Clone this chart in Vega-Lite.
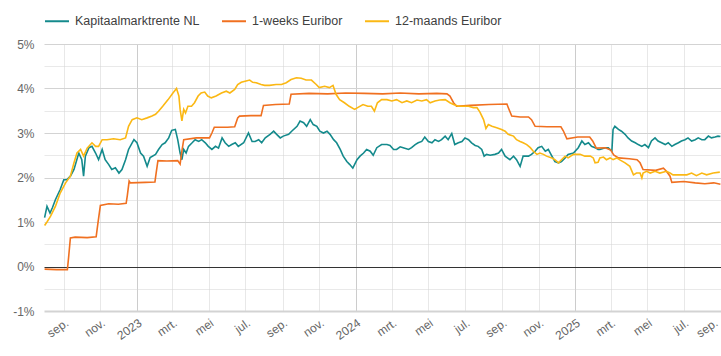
{
  "$schema": "https://vega.github.io/schema/vega-lite/v6.json",
  "width": 677,
  "height": 267,
  "autosize": {"type": "none"},
  "padding": {"left": 44, "top": 44, "right": 0, "bottom": 45},
  "config": {
    "font": "Liberation Sans",
    "view": {"stroke": null},
    "axis": {"labelFont": "Liberation Sans", "labelFontSize": 12, "labelColor": "#666666"},
    "legend": {"labelFont": "Liberation Sans"}
  },
  "datasets": {
    "kapitaal": [
      {"d":"2022-07-31","v":1.1},{"d":"2022-08-04","v":1.35},{"d":"2022-08-09","v":1.2},{"d":"2022-08-13","v":1.32},{"d":"2022-08-18","v":1.5},{"d":"2022-08-26","v":1.73},
      {"d":"2022-09-01","v":1.95},{"d":"2022-09-06","v":1.95},{"d":"2022-09-12","v":2.03},{"d":"2022-09-18","v":2.18},{"d":"2022-09-26","v":2.55},
      {"d":"2022-10-01","v":2.4},{"d":"2022-10-04","v":2.03},{"d":"2022-10-07","v":2.48},{"d":"2022-10-13","v":2.67},{"d":"2022-10-18","v":2.7},{"d":"2022-10-24","v":2.55},{"d":"2022-10-29","v":2.4},
      {"d":"2022-11-04","v":2.63},{"d":"2022-11-09","v":2.4},{"d":"2022-11-15","v":2.29},{"d":"2022-11-20","v":2.18},{"d":"2022-11-26","v":2.22},
      {"d":"2022-12-02","v":2.1},{"d":"2022-12-07","v":2.18},{"d":"2022-12-13","v":2.4},{"d":"2022-12-18","v":2.63},{"d":"2022-12-27","v":2.85},
      {"d":"2023-01-01","v":2.78},{"d":"2023-01-07","v":2.55},{"d":"2023-01-12","v":2.48},{"d":"2023-01-18","v":2.25},{"d":"2023-01-23","v":2.45},
      {"d":"2023-02-01","v":2.52},{"d":"2023-02-06","v":2.63},{"d":"2023-02-12","v":2.74},{"d":"2023-02-17","v":2.78},{"d":"2023-02-23","v":2.89},{"d":"2023-02-28","v":3.06},
      {"d":"2023-03-06","v":3.08},{"d":"2023-03-10","v":2.85},{"d":"2023-03-14","v":2.55},{"d":"2023-03-17","v":2.4},{"d":"2023-03-20","v":2.63},{"d":"2023-03-24","v":2.55},{"d":"2023-03-28","v":2.7},
      {"d":"2023-04-03","v":2.78},{"d":"2023-04-08","v":2.85},{"d":"2023-04-14","v":2.81},{"d":"2023-04-19","v":2.85},{"d":"2023-04-25","v":2.78},{"d":"2023-04-30","v":2.7},
      {"d":"2023-05-06","v":2.63},{"d":"2023-05-12","v":2.7},{"d":"2023-05-17","v":2.66},{"d":"2023-05-23","v":2.89},{"d":"2023-05-28","v":2.78},
      {"d":"2023-06-03","v":2.7},{"d":"2023-06-08","v":2.74},{"d":"2023-06-14","v":2.78},{"d":"2023-06-19","v":2.7},{"d":"2023-06-28","v":2.78},
      {"d":"2023-07-06","v":3.0},{"d":"2023-07-12","v":2.81},{"d":"2023-07-17","v":2.81},{"d":"2023-07-23","v":2.85},{"d":"2023-07-28","v":2.78},
      {"d":"2023-08-03","v":2.89},{"d":"2023-08-11","v":2.97},{"d":"2023-08-17","v":3.04},{"d":"2023-08-22","v":2.97},{"d":"2023-08-28","v":2.89},
      {"d":"2023-09-02","v":2.93},{"d":"2023-09-11","v":2.97},{"d":"2023-09-16","v":3.04},{"d":"2023-09-25","v":3.15},{"d":"2023-09-30","v":3.27},
      {"d":"2023-10-06","v":3.23},{"d":"2023-10-11","v":3.15},{"d":"2023-10-17","v":3.3},{"d":"2023-10-22","v":3.19},{"d":"2023-10-28","v":3.15},
      {"d":"2023-11-02","v":3.04},{"d":"2023-11-08","v":3.0},{"d":"2023-11-14","v":3.04},{"d":"2023-11-19","v":2.97},{"d":"2023-11-25","v":2.85},{"d":"2023-11-30","v":2.78},
      {"d":"2023-12-06","v":2.63},{"d":"2023-12-11","v":2.48},{"d":"2023-12-17","v":2.36},{"d":"2023-12-22","v":2.29},{"d":"2023-12-27","v":2.21},
      {"d":"2024-01-03","v":2.4},{"d":"2024-01-08","v":2.48},{"d":"2024-01-14","v":2.55},{"d":"2024-01-19","v":2.63},{"d":"2024-01-25","v":2.59},{"d":"2024-01-30","v":2.5},
      {"d":"2024-02-05","v":2.67},{"d":"2024-02-13","v":2.74},{"d":"2024-02-22","v":2.74},{"d":"2024-02-27","v":2.72},
      {"d":"2024-03-04","v":2.63},{"d":"2024-03-09","v":2.63},{"d":"2024-03-15","v":2.69},{"d":"2024-03-20","v":2.67},{"d":"2024-03-29","v":2.63},
      {"d":"2024-04-03","v":2.67},{"d":"2024-04-09","v":2.74},{"d":"2024-04-14","v":2.78},{"d":"2024-04-20","v":2.81},{"d":"2024-04-25","v":2.91},
      {"d":"2024-05-01","v":2.81},{"d":"2024-05-07","v":2.78},{"d":"2024-05-12","v":2.85},{"d":"2024-05-18","v":2.81},{"d":"2024-05-23","v":2.85},{"d":"2024-05-29","v":2.93},
      {"d":"2024-06-03","v":2.85},{"d":"2024-06-09","v":2.99},{"d":"2024-06-14","v":2.74},{"d":"2024-06-20","v":2.78},{"d":"2024-06-26","v":2.81},
      {"d":"2024-07-01","v":2.89},{"d":"2024-07-07","v":2.85},{"d":"2024-07-12","v":2.78},{"d":"2024-07-18","v":2.72},{"d":"2024-07-23","v":2.7},{"d":"2024-07-29","v":2.63},
      {"d":"2024-08-02","v":2.48},{"d":"2024-08-06","v":2.52},{"d":"2024-08-12","v":2.5},{"d":"2024-08-20","v":2.52},{"d":"2024-08-26","v":2.55},{"d":"2024-08-31","v":2.63},
      {"d":"2024-09-06","v":2.48},{"d":"2024-09-14","v":2.4},{"d":"2024-09-20","v":2.48},{"d":"2024-09-25","v":2.4},
      {"d":"2024-10-01","v":2.25},{"d":"2024-10-06","v":2.48},{"d":"2024-10-15","v":2.48},{"d":"2024-10-20","v":2.52},{"d":"2024-10-26","v":2.59},{"d":"2024-10-31","v":2.67},
      {"d":"2024-11-06","v":2.7},{"d":"2024-11-12","v":2.59},{"d":"2024-11-17","v":2.63},{"d":"2024-11-23","v":2.48},{"d":"2024-11-28","v":2.36},
      {"d":"2024-12-04","v":2.33},{"d":"2024-12-09","v":2.36},{"d":"2024-12-15","v":2.44},{"d":"2024-12-20","v":2.52},{"d":"2024-12-29","v":2.55},
      {"d":"2025-01-06","v":2.67},{"d":"2025-01-12","v":2.82},{"d":"2025-01-17","v":2.74},{"d":"2025-01-23","v":2.78},{"d":"2025-01-28","v":2.7},
      {"d":"2025-02-03","v":2.67},{"d":"2025-02-08","v":2.63},{"d":"2025-02-11","v":2.63},{"d":"2025-02-20","v":2.67},{"d":"2025-02-25","v":2.67},
      {"d":"2025-03-03","v":2.59},{"d":"2025-03-05","v":3.08},{"d":"2025-03-08","v":3.15},{"d":"2025-03-14","v":3.08},{"d":"2025-03-19","v":3.04},{"d":"2025-03-25","v":2.97},{"d":"2025-03-30","v":2.89},
      {"d":"2025-04-05","v":2.82},{"d":"2025-04-11","v":2.78},{"d":"2025-04-16","v":2.74},{"d":"2025-04-22","v":2.7},{"d":"2025-04-27","v":2.74},
      {"d":"2025-05-03","v":2.67},{"d":"2025-05-08","v":2.82},{"d":"2025-05-14","v":2.89},{"d":"2025-05-19","v":2.82},{"d":"2025-05-25","v":2.78},{"d":"2025-05-31","v":2.74},
      {"d":"2025-06-05","v":2.78},{"d":"2025-06-11","v":2.7},{"d":"2025-06-16","v":2.74},{"d":"2025-06-22","v":2.78},{"d":"2025-06-27","v":2.82},
      {"d":"2025-07-03","v":2.85},{"d":"2025-07-08","v":2.89},{"d":"2025-07-14","v":2.82},{"d":"2025-07-20","v":2.85},{"d":"2025-07-25","v":2.89},{"d":"2025-07-31","v":2.85},
      {"d":"2025-08-05","v":2.85},{"d":"2025-08-11","v":2.93},{"d":"2025-08-16","v":2.89},{"d":"2025-08-22","v":2.91},{"d":"2025-08-27","v":2.93},{"d":"2025-08-31","v":2.92}
    ],
    "week": [
      {"d":"2022-07-31","v":-0.06},{"d":"2022-08-20","v":-0.07},{"d":"2022-09-07","v":-0.07},{"d":"2022-09-09","v":0.2},{"d":"2022-09-12","v":0.64},
      {"d":"2022-09-20","v":0.66},{"d":"2022-10-10","v":0.65},{"d":"2022-10-25","v":0.67},{"d":"2022-10-28","v":0.98},{"d":"2022-11-01","v":1.37},
      {"d":"2022-11-15","v":1.41},{"d":"2022-12-01","v":1.4},{"d":"2022-12-14","v":1.42},{"d":"2022-12-16","v":1.6},{"d":"2022-12-19","v":1.92},{"d":"2022-12-21","v":1.88},
      {"d":"2023-01-15","v":1.89},{"d":"2023-01-31","v":1.9},{"d":"2023-02-02","v":2.1},{"d":"2023-02-05","v":2.38},{"d":"2023-02-20","v":2.37},
      {"d":"2023-03-10","v":2.38},{"d":"2023-03-14","v":2.3},{"d":"2023-03-17","v":2.6},{"d":"2023-03-20","v":2.85},{"d":"2023-04-10","v":2.89},
      {"d":"2023-05-02","v":2.89},{"d":"2023-05-06","v":3.0},{"d":"2023-05-10","v":3.13},{"d":"2023-06-01","v":3.13},{"d":"2023-06-13","v":3.14},
      {"d":"2023-06-18","v":3.34},{"d":"2023-06-21","v":3.38},{"d":"2023-07-10","v":3.39},{"d":"2023-07-27","v":3.39},{"d":"2023-07-31","v":3.62},
      {"d":"2023-08-20","v":3.64},{"d":"2023-09-12","v":3.65},{"d":"2023-09-15","v":3.87},{"d":"2023-10-15","v":3.89},{"d":"2023-11-15","v":3.88},
      {"d":"2023-12-15","v":3.9},{"d":"2024-01-15","v":3.89},{"d":"2024-02-15","v":3.88},{"d":"2024-03-15","v":3.9},{"d":"2024-04-15","v":3.88},
      {"d":"2024-05-15","v":3.89},{"d":"2024-06-01","v":3.88},{"d":"2024-06-06","v":3.83},{"d":"2024-06-12","v":3.68},{"d":"2024-06-17","v":3.6},
      {"d":"2024-07-10","v":3.62},{"d":"2024-08-10","v":3.64},{"d":"2024-09-09","v":3.65},{"d":"2024-09-11","v":3.58},{"d":"2024-09-17","v":3.38},
      {"d":"2024-10-01","v":3.36},{"d":"2024-10-15","v":3.36},{"d":"2024-10-20","v":3.3},{"d":"2024-10-26","v":3.15},{"d":"2024-11-15","v":3.14},
      {"d":"2024-12-08","v":3.14},{"d":"2024-12-12","v":3.05},{"d":"2024-12-18","v":2.87},{"d":"2025-01-05","v":2.91},{"d":"2025-01-25","v":2.91},
      {"d":"2025-01-30","v":2.82},{"d":"2025-02-05","v":2.66},{"d":"2025-02-20","v":2.67},{"d":"2025-03-01","v":2.62},{"d":"2025-03-06","v":2.51},
      {"d":"2025-03-14","v":2.44},{"d":"2025-04-01","v":2.42},{"d":"2025-04-14","v":2.4},{"d":"2025-04-19","v":2.33},{"d":"2025-04-24","v":2.18},
      {"d":"2025-05-15","v":2.16},{"d":"2025-05-28","v":2.21},{"d":"2025-06-02","v":2.14},{"d":"2025-06-08","v":2.03},{"d":"2025-06-11","v":1.89},
      {"d":"2025-07-01","v":1.91},{"d":"2025-07-20","v":1.88},{"d":"2025-08-05","v":1.86},{"d":"2025-08-20","v":1.88},{"d":"2025-08-31","v":1.85}
    ],
    "jaar": [
      {"d":"2022-07-31","v":0.92},{"d":"2022-08-04","v":1.0},{"d":"2022-08-10","v":1.13},{"d":"2022-08-18","v":1.35},{"d":"2022-08-26","v":1.65},
      {"d":"2022-09-04","v":1.88},{"d":"2022-09-12","v":2.03},{"d":"2022-09-18","v":2.33},{"d":"2022-09-23","v":2.55},{"d":"2022-09-29","v":2.63},
      {"d":"2022-10-04","v":2.48},{"d":"2022-10-10","v":2.66},{"d":"2022-10-18","v":2.78},{"d":"2022-10-24","v":2.7},{"d":"2022-10-29","v":2.7},
      {"d":"2022-11-04","v":2.85},{"d":"2022-11-12","v":2.85},{"d":"2022-11-23","v":2.87},{"d":"2022-12-04","v":2.85},{"d":"2022-12-13","v":2.89},
      {"d":"2022-12-18","v":3.15},{"d":"2022-12-24","v":3.3},{"d":"2023-01-01","v":3.34},{"d":"2023-01-09","v":3.3},{"d":"2023-01-18","v":3.34},
      {"d":"2023-01-26","v":3.38},{"d":"2023-02-01","v":3.42},{"d":"2023-02-06","v":3.49},{"d":"2023-02-13","v":3.6},{"d":"2023-02-22","v":3.75},
      {"d":"2023-03-02","v":3.9},{"d":"2023-03-08","v":4.0},{"d":"2023-03-12","v":3.83},{"d":"2023-03-14","v":3.53},{"d":"2023-03-17","v":3.27},
      {"d":"2023-03-20","v":3.53},{"d":"2023-03-23","v":3.45},{"d":"2023-03-27","v":3.6},{"d":"2023-04-02","v":3.6},{"d":"2023-04-07","v":3.68},
      {"d":"2023-04-13","v":3.83},{"d":"2023-04-18","v":3.9},{"d":"2023-04-24","v":3.92},{"d":"2023-04-29","v":3.83},{"d":"2023-05-05","v":3.79},
      {"d":"2023-05-13","v":3.83},{"d":"2023-05-22","v":3.9},{"d":"2023-05-30","v":3.94},{"d":"2023-06-05","v":3.9},{"d":"2023-06-13","v":3.98},
      {"d":"2023-06-18","v":4.09},{"d":"2023-06-24","v":4.14},{"d":"2023-07-02","v":4.17},{"d":"2023-07-08","v":4.19},{"d":"2023-07-13","v":4.14},
      {"d":"2023-07-19","v":4.13},{"d":"2023-07-27","v":4.09},{"d":"2023-08-02","v":4.07},{"d":"2023-08-10","v":4.07},{"d":"2023-08-21","v":4.09},
      {"d":"2023-08-30","v":4.09},{"d":"2023-09-07","v":4.13},{"d":"2023-09-15","v":4.2},{"d":"2023-09-24","v":4.24},{"d":"2023-10-02","v":4.23},
      {"d":"2023-10-10","v":4.19},{"d":"2023-10-19","v":4.19},{"d":"2023-10-27","v":4.09},{"d":"2023-11-01","v":4.02},{"d":"2023-11-10","v":4.05},
      {"d":"2023-11-18","v":4.02},{"d":"2023-11-24","v":4.07},{"d":"2023-11-29","v":3.87},{"d":"2023-12-05","v":3.75},{"d":"2023-12-13","v":3.68},
      {"d":"2023-12-21","v":3.6},{"d":"2023-12-30","v":3.53},{"d":"2024-01-04","v":3.57},{"d":"2024-01-13","v":3.64},{"d":"2024-01-21","v":3.6},
      {"d":"2024-01-27","v":3.6},{"d":"2024-02-01","v":3.49},{"d":"2024-02-06","v":3.68},{"d":"2024-02-13","v":3.75},{"d":"2024-02-22","v":3.75},
      {"d":"2024-03-01","v":3.72},{"d":"2024-03-09","v":3.75},{"d":"2024-03-18","v":3.68},{"d":"2024-03-26","v":3.72},{"d":"2024-04-03","v":3.68},
      {"d":"2024-04-12","v":3.74},{"d":"2024-04-20","v":3.72},{"d":"2024-04-28","v":3.75},{"d":"2024-05-04","v":3.68},{"d":"2024-05-12","v":3.72},
      {"d":"2024-05-20","v":3.74},{"d":"2024-05-29","v":3.75},{"d":"2024-06-06","v":3.68},{"d":"2024-06-12","v":3.64},{"d":"2024-06-20","v":3.6},
      {"d":"2024-06-28","v":3.6},{"d":"2024-07-07","v":3.6},{"d":"2024-07-15","v":3.57},{"d":"2024-07-21","v":3.57},{"d":"2024-07-26","v":3.47},
      {"d":"2024-08-01","v":3.3},{"d":"2024-08-05","v":3.1},{"d":"2024-08-09","v":3.19},{"d":"2024-08-15","v":3.15},{"d":"2024-08-23","v":3.12},
      {"d":"2024-08-31","v":3.08},{"d":"2024-09-06","v":3.04},{"d":"2024-09-11","v":2.97},{"d":"2024-09-20","v":2.93},{"d":"2024-09-25","v":2.85},
      {"d":"2024-10-01","v":2.81},{"d":"2024-10-06","v":2.78},{"d":"2024-10-12","v":2.74},{"d":"2024-10-18","v":2.67},{"d":"2024-10-23","v":2.59},
      {"d":"2024-10-29","v":2.52},{"d":"2024-11-03","v":2.55},{"d":"2024-11-09","v":2.52},{"d":"2024-11-14","v":2.48},{"d":"2024-11-23","v":2.44},
      {"d":"2024-11-28","v":2.4},{"d":"2024-12-04","v":2.33},{"d":"2024-12-09","v":2.4},{"d":"2024-12-15","v":2.48},{"d":"2024-12-20","v":2.44},
      {"d":"2024-12-29","v":2.52},{"d":"2025-01-03","v":2.52},{"d":"2025-01-09","v":2.52},{"d":"2025-01-17","v":2.48},{"d":"2025-01-26","v":2.48},
      {"d":"2025-01-31","v":2.44},{"d":"2025-02-03","v":2.33},{"d":"2025-02-08","v":2.34},{"d":"2025-02-11","v":2.44},{"d":"2025-02-17","v":2.46},
      {"d":"2025-02-22","v":2.4},{"d":"2025-02-28","v":2.44},{"d":"2025-03-05","v":2.4},{"d":"2025-03-11","v":2.44},{"d":"2025-03-17","v":2.39},
      {"d":"2025-03-25","v":2.33},{"d":"2025-04-02","v":2.25},{"d":"2025-04-08","v":2.06},{"d":"2025-04-13","v":2.1},{"d":"2025-04-19","v":2.1},
      {"d":"2025-04-22","v":1.99},{"d":"2025-04-24","v":2.1},{"d":"2025-04-30","v":2.14},{"d":"2025-05-06","v":2.1},{"d":"2025-05-14","v":2.14},
      {"d":"2025-05-22","v":2.1},{"d":"2025-06-02","v":2.14},{"d":"2025-06-08","v":2.1},{"d":"2025-06-13","v":2.06},{"d":"2025-06-25","v":2.06},
      {"d":"2025-07-06","v":2.06},{"d":"2025-07-14","v":2.1},{"d":"2025-07-22","v":2.04},{"d":"2025-07-31","v":2.1},{"d":"2025-08-08","v":2.06},
      {"d":"2025-08-19","v":2.1},{"d":"2025-08-30","v":2.12}
    ]
  },
  "encoding": {
    "x": {
      "field": "d",
      "type": "temporal",
      "scale": {"type": "utc", "domain": [{"year": 2022, "month": 7, "date": 30, "utc": true}, {"year": 2025, "month": 9, "date": 1, "utc": true}]},
      "axis": {
        "title": null,
        "domain": false,
        "ticks": false,
        "tickCount": {"interval": "month", "step": 2},
        "labelExpr": "utcmonth(datum.value) === 0 ? utcFormat(datum.value, '%Y') : ['jan.','feb.','mrt.','apr.','mei','jun.','jul.','aug.','sep.','okt.','nov.','dec.'][utcmonth(datum.value)]",
        "labelAngle": -35,
        "labelAlign": "right",
        "labelBaseline": "top",
        "labelPadding": 6,
        "labelOverlap": false,
        "labelFlush": false,
        "labelOffset": {"condition": {"test": "utcyear(datum.value) === 2025 && utcmonth(datum.value) === 8", "value": -8}, "value": 0},
        "gridColor": {"condition": {"test": "utcmonth(datum.value) === 0", "value": "#cccccc"}, "value": "#e8e8e8"}
      }
    },
    "y": {
      "field": "v",
      "type": "quantitative",
      "scale": {"domain": [-1, 5], "nice": false, "zero": false},
      "axis": {
        "title": null,
        "domain": false,
        "ticks": false,
        "values": [-1, -0.5, 0, 0.5, 1, 1.5, 2, 2.5, 3, 3.5, 4, 4.5, 5],
        "labelExpr": "datum.value % 1 === 0 ? datum.value + '%' : ''",
        "labelPadding": 10,
        "gridColor": {"condition": {"test": "datum.value === 0", "value": "#333333"}, "value": "#d3d3d3"},
        "gridOpacity": {"condition": {"test": "datum.value % 1 !== 0", "value": 0.5}, "value": 1},
        "gridWidth": {"condition": {"test": "datum.value === -1", "value": 2}, "value": 1}
      }
    }
  },
  "layer": [
    {
      "data": {"name": "kapitaal"},
      "mark": {"type": "line", "strokeWidth": 1.6},
      "encoding": {
        "color": {
          "datum": "Kapitaalmarktrente NL",
          "type": "nominal",
          "scale": {"domain": ["Kapitaalmarktrente NL", "1-weeks Euribor", "12-maands Euribor"], "range": ["#148a8c", "#f07020", "#fbb814"]},
          "legend": {
            "title": null,
            "orient": "none",
            "legendX": 0,
            "legendY": -36,
            "direction": "horizontal",
            "symbolType": "stroke",
            "symbolSize": 576,
            "symbolStrokeWidth": 2,
            "labelFontSize": 12.5,
            "labelColor": "#404040",
            "labelOffset": 5,
            "columnPadding": 18,
            "padding": 0
          }
        }
      }
    },
    {
      "data": {"name": "week"},
      "mark": {"type": "line", "strokeWidth": 1.6},
      "encoding": {"color": {"datum": "1-weeks Euribor", "type": "nominal"}}
    },
    {
      "data": {"name": "jaar"},
      "mark": {"type": "line", "strokeWidth": 1.6},
      "encoding": {"color": {"datum": "12-maands Euribor", "type": "nominal"}}
    }
  ]
}
